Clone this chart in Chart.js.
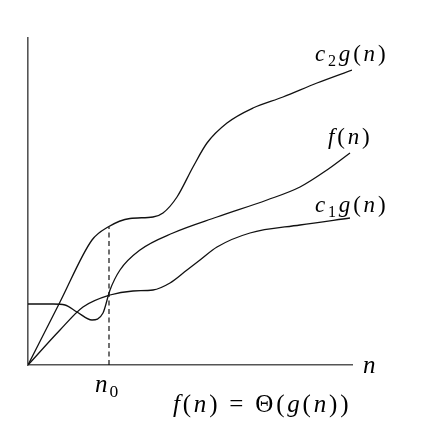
<!DOCTYPE html>
<html>
<head>
<meta charset="UTF-8">
<title>f(n) = Θ(g(n))</title>
<script src="https://cdn.jsdelivr.net/npm/chart.js"></script>
<style>
  * { margin: 0; padding: 0; }
  body { background: #fff; }
  #chart { display: block; }
</style>
</head>
<body>
<canvas id="chart" width="427" height="425"></canvas>
<script>
// curve points (n, value)
const c2gX = [0, 32, 64, 80, 102, 125, 135, 149, 165, 179, 199, 225, 255, 289, 324];
const c2gY = [0, 63, 125, 138, 146.5, 148, 152, 168, 198, 222, 242, 257, 268, 282, 295];
const fX = [0, 25, 37, 49, 64, 75, 82, 92, 112, 145, 189, 239, 272, 299, 322];
const fY = [61, 61, 60, 53, 45, 52, 75, 95, 115, 132, 148, 165, 178, 195, 212];
const c1gX = [0, 32, 55, 82, 105, 125, 142, 159, 172, 189, 222, 272, 322];
const c1gY = [0, 35, 58, 70, 74, 75, 82, 95, 105, 118, 132, 140, 147];
const n0 = 81;
const n0Top = 138;

const pts = (xs, ys) => xs.map((x, i) => ({x: x, y: ys[i]}));

// label runs: i = italic, r = roman, s = subscript
const labels = [
  {x: 287, y: 304, size: 23, gap: 2.8, runs: [['c','i'],['2','s'],['g','i'],['(','r'],['n','i'],[')','r']]},
  {x: 300, y: 221, size: 23, gap: 2.8, runs: [['f','i'],['(','r'],['n','i'],[')','r']]},
  {x: 287, y: 153, size: 23, gap: 2.8, runs: [['c','i'],['1','s'],['g','i'],['(','r'],['n','i'],[')','r']]},
  {x: 335, y: -8, size: 25, gap: 0, runs: [['n','i']]},
  {x: 67, y: -27, size: 25, gap: 2, runs: [['n','i'],['0','s']]},
  {x: 145, y: -47, size: 25, gap: 2.8, runs: [['f','i'],['(','r'],['n','i'],[')','r'],[' = ','r'],['Θ','r'],['(','r'],['g','i'],['(','r'],['n','i'],[')','r'],[')','r']]}
];

const textPlugin = {
  id: 'mathText',
  afterDraw(chart) {
    const ctx = chart.ctx;
    const xs = chart.scales.x, ys = chart.scales.y;
    ctx.save();
    ctx.fillStyle = '#000';
    ctx.textBaseline = 'alphabetic';
    labels.forEach(l => {
      let px = xs.getPixelForValue(l.x);
      const py = ys.getPixelForValue(l.y);
      l.runs.forEach(([t, k]) => {
        let size = l.size, dy = 0;
        if (k === 's') { size = l.size * 0.7; dy = l.size * 0.2; }
        ctx.font = (k === 'i' ? 'italic ' : '') + size + 'px "Liberation Serif", "DejaVu Serif", serif';
        for (const ch of t) {
          ctx.fillText(ch, px, py + dy);
          px += ctx.measureText(ch).width + l.gap;
        }
      });
    });
    ctx.restore();
  }
};

const lineStyle = {borderColor: '#111', borderWidth: 1.3, pointRadius: 0, fill: false, cubicInterpolationMode: 'monotone'};

new Chart(document.getElementById('chart'), {
  type: 'line',
  data: {
    datasets: [
      Object.assign({label: 'c2g(n)', data: pts(c2gX, c2gY)}, lineStyle),
      Object.assign({label: 'f(n)', data: pts(fX, fY)}, lineStyle),
      Object.assign({label: 'c1g(n)', data: pts(c1gX, c1gY)}, lineStyle),
      {label: 'n0', data: [{x: n0, y: 0}, {x: n0, y: n0Top}], borderColor: '#111', borderWidth: 1.2,
       borderDash: [5, 3.5], pointRadius: 0, tension: 0}
    ]
  },
  options: {
    responsive: false,
    animation: false,
    layout: {padding: {left: 28, top: 38, right: 75, bottom: 60}},
    plugins: {legend: {display: false}, tooltip: {enabled: false}},
    scales: {
      x: {type: 'linear', min: 0, max: 324, ticks: {display: false},
          grid: {display: false, drawTicks: false}, border: {display: true, color: '#555', width: 1.6}},
      y: {type: 'linear', min: 0, max: 327, ticks: {display: false},
          grid: {display: false, drawTicks: false}, border: {display: true, color: '#555', width: 1.6}}
    }
  },
  plugins: [textPlugin]
});
</script>
</body>
</html>
